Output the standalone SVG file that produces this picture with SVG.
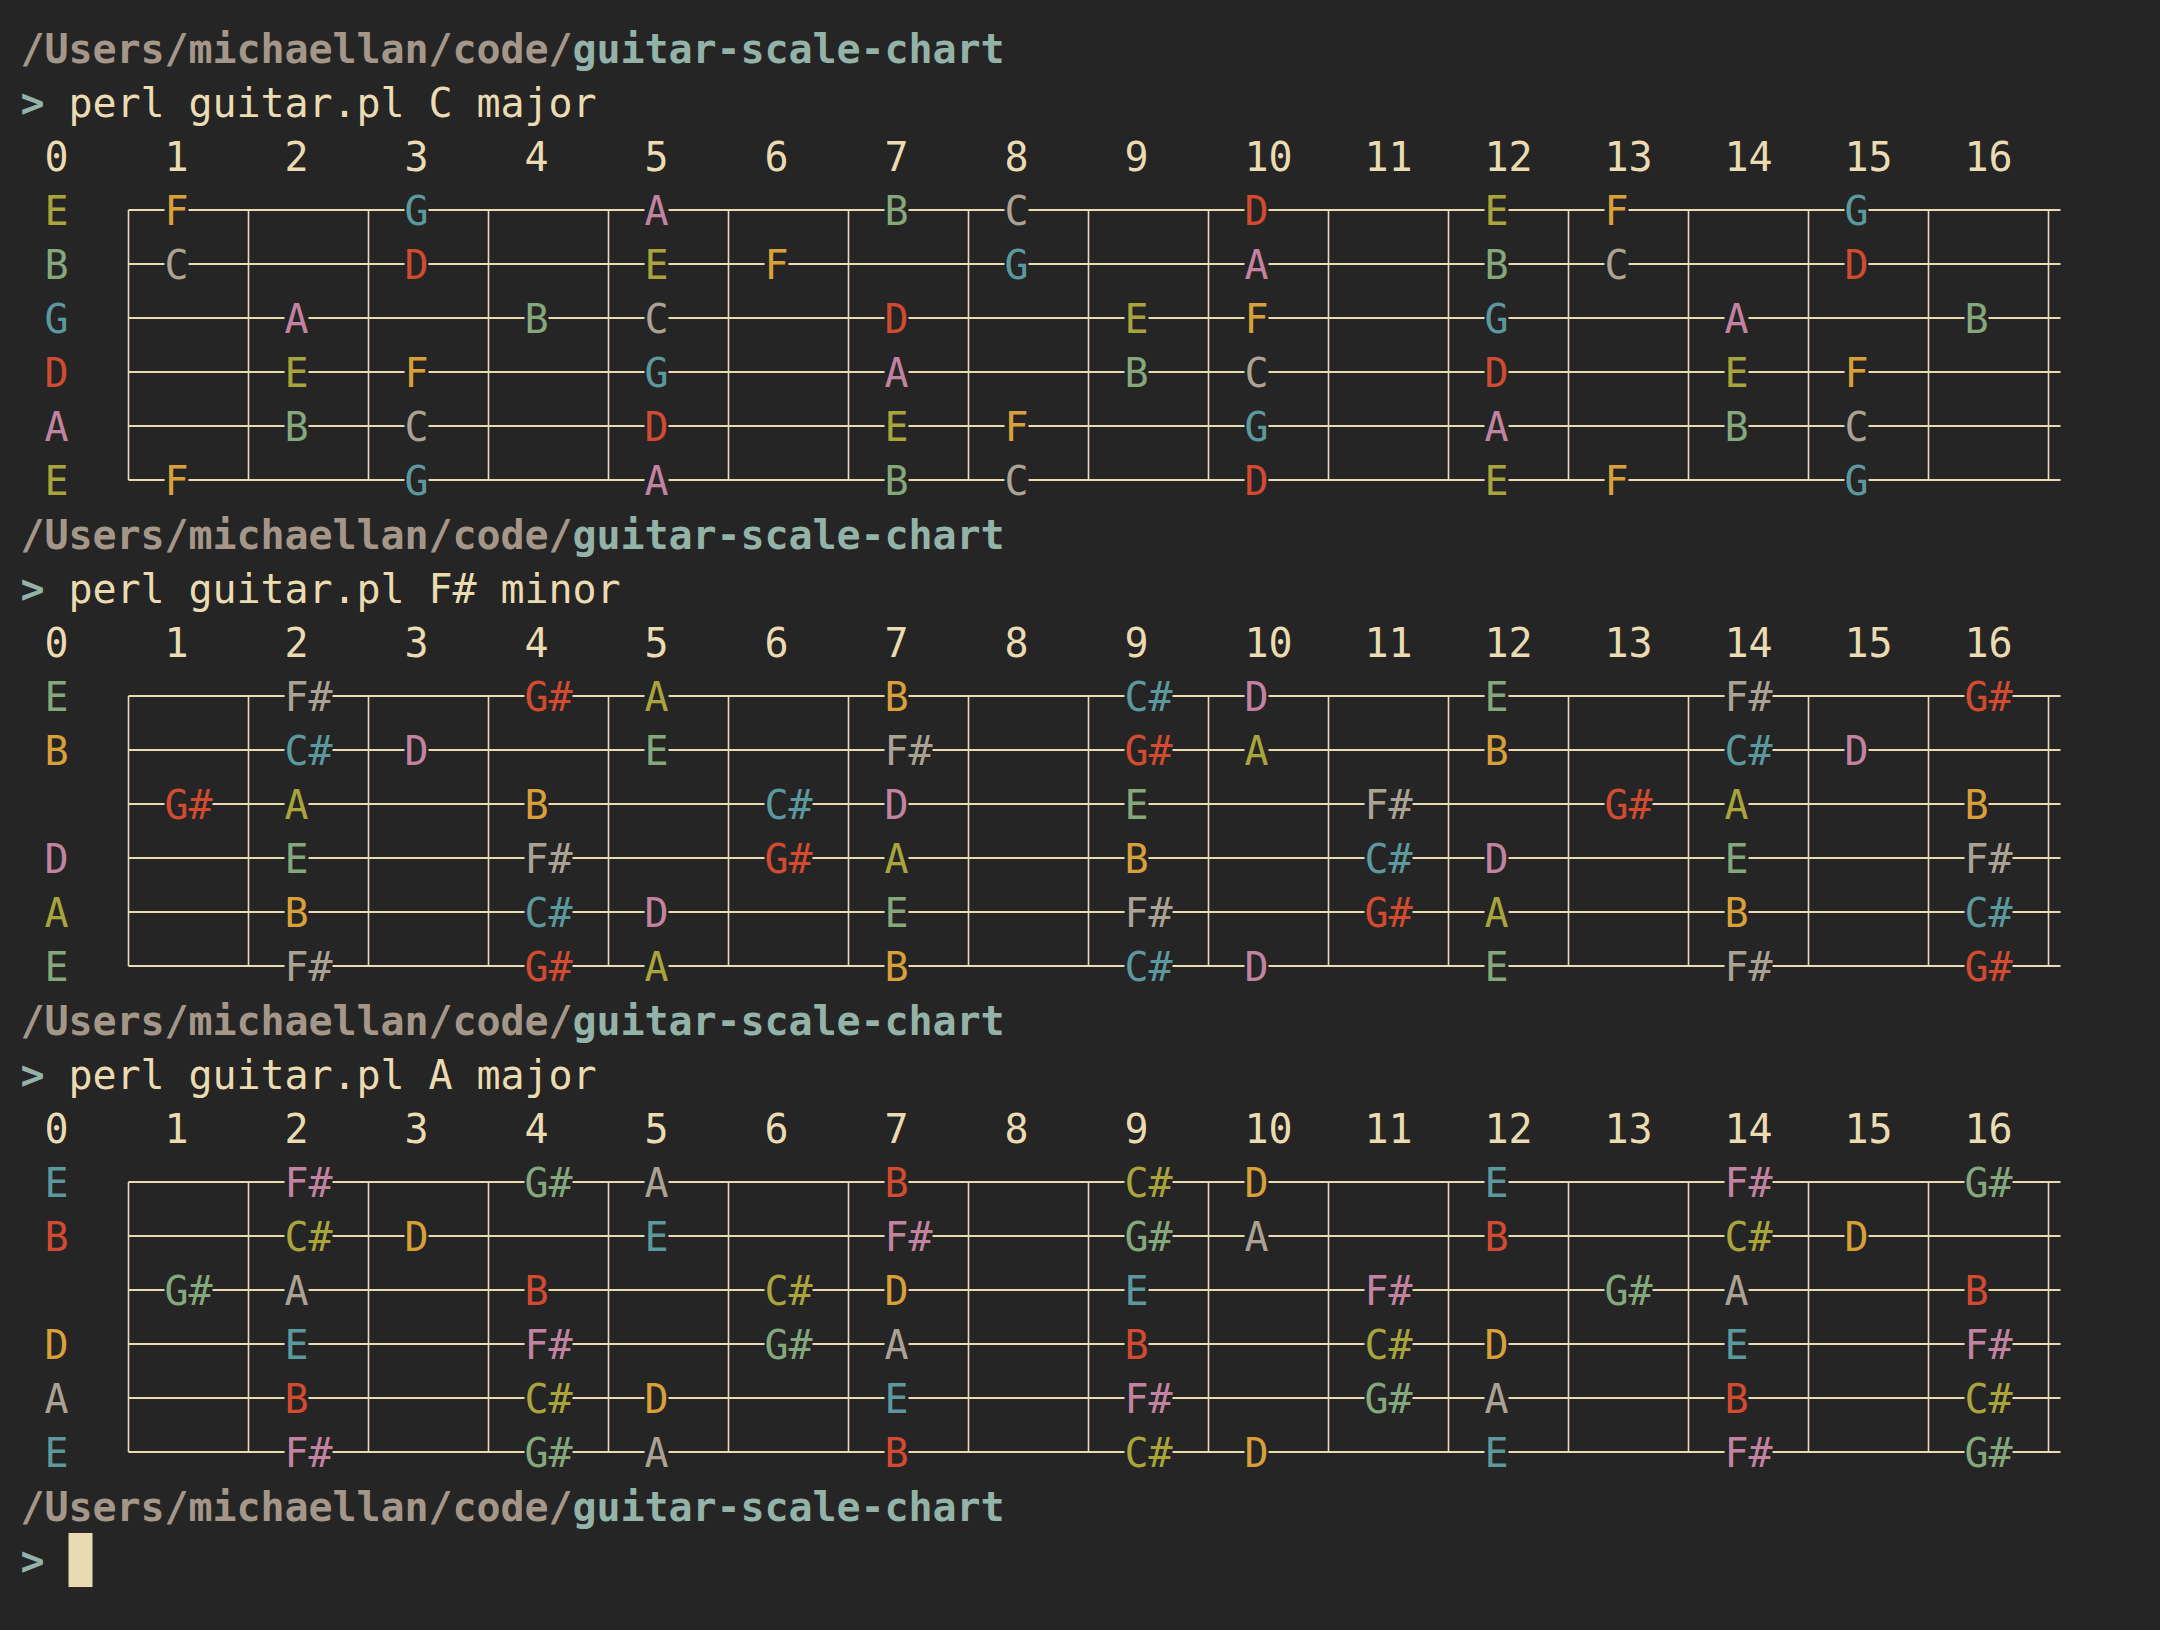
<svg xmlns="http://www.w3.org/2000/svg" xmlns:xlink="http://www.w3.org/1999/xlink" width="2160" height="1630" viewBox="0 0 2160 1630">
<style>
text{font-family:"DejaVu Sans Mono","Liberation Mono",monospace;font-size:40px;white-space:pre}
.path{fill:#a4978a;font-weight:bold}.repo{fill:#93b3a9;font-weight:bold}.pr{fill:#93b3a9;font-weight:bold}.cmd{fill:#ebdbb2}.num{fill:#ebdbb2}
.d1{fill:#aba294}.d2{fill:#d24a30}.d3{fill:#a9a43c}.d4{fill:#d9a03a}.d5{fill:#5b999e}.d6{fill:#c283a0}.d7{fill:#84a87c}
.gap{fill:#252525}
.h{stroke:#ebdbb2;stroke-width:2;fill:none}.v{stroke:#ebdbb2;stroke-width:1.6;fill:none}
</style>
<defs>
<g id="board">
<path class="h" d="M128.5 0H2060.5M128.5 54H2060.5M128.5 108H2060.5M128.5 162H2060.5M128.5 216H2060.5M128.5 270H2060.5"/>
<path class="v" d="M128.5 0V270M248.5 0V270M368.5 0V270M488.5 0V270M608.5 0V270M728.5 0V270M848.5 0V270M968.5 0V270M1088.5 0V270M1208.5 0V270M1328.5 0V270M1448.5 0V270M1568.5 0V270M1688.5 0V270M1808.5 0V270M1928.5 0V270M2048.5 0V270"/>
</g>
<g id="frets">
<text class="num" x="44.5" y="0">0</text><text class="num" x="164.5" y="0">1</text><text class="num" x="284.5" y="0">2</text><text class="num" x="404.5" y="0">3</text><text class="num" x="524.5" y="0">4</text><text class="num" x="644.5" y="0">5</text><text class="num" x="764.5" y="0">6</text><text class="num" x="884.5" y="0">7</text><text class="num" x="1004.5" y="0">8</text><text class="num" x="1124.5" y="0">9</text><text class="num" x="1244.5" y="0" textLength="48">10</text><text class="num" x="1364.5" y="0" textLength="48">11</text><text class="num" x="1484.5" y="0" textLength="48">12</text><text class="num" x="1604.5" y="0" textLength="48">13</text><text class="num" x="1724.5" y="0" textLength="48">14</text><text class="num" x="1844.5" y="0" textLength="48">15</text><text class="num" x="1964.5" y="0" textLength="48">16</text>
</g>
<g id="header">
<text class="path" x="20.5" y="0" textLength="552">/Users/michaellan/code/</text><text class="repo" x="572.5" y="0" textLength="432">guitar-scale-chart</text>
</g>
</defs>
<rect width="2160" height="1630" fill="#252525"/>

<g id="chart-c-major">
<use xlink:href="#header" href="#header" y="63"/>
<text class="pr" x="20.5" y="117">&gt;</text><text class="cmd" x="68.5" y="117" textLength="528">perl guitar.pl C major</text>
<use xlink:href="#frets" href="#frets" y="171"/>
<use xlink:href="#board" href="#board" y="210"/>
<g id="cmaj-s1" transform="translate(0,210)">
<text class="d3" x="44.5" y="15">E</text>
<rect class="gap" x="164.5" y="-5" width="24" height="10"/><text class="d4" x="164.5" y="15">F</text>
<rect class="gap" x="404.5" y="-5" width="24" height="10"/><text class="d5" x="404.5" y="15">G</text>
<rect class="gap" x="644.5" y="-5" width="24" height="10"/><text class="d6" x="644.5" y="15">A</text>
<rect class="gap" x="884.5" y="-5" width="24" height="10"/><text class="d7" x="884.5" y="15">B</text>
<rect class="gap" x="1004.5" y="-5" width="24" height="10"/><text class="d1" x="1004.5" y="15">C</text>
<rect class="gap" x="1244.5" y="-5" width="24" height="10"/><text class="d2" x="1244.5" y="15">D</text>
<rect class="gap" x="1484.5" y="-5" width="24" height="10"/><text class="d3" x="1484.5" y="15">E</text>
<rect class="gap" x="1604.5" y="-5" width="24" height="10"/><text class="d4" x="1604.5" y="15">F</text>
<rect class="gap" x="1844.5" y="-5" width="24" height="10"/><text class="d5" x="1844.5" y="15">G</text>
</g>
<g id="cmaj-s2" transform="translate(0,264)">
<text class="d7" x="44.5" y="15">B</text>
<rect class="gap" x="164.5" y="-5" width="24" height="10"/><text class="d1" x="164.5" y="15">C</text>
<rect class="gap" x="404.5" y="-5" width="24" height="10"/><text class="d2" x="404.5" y="15">D</text>
<rect class="gap" x="644.5" y="-5" width="24" height="10"/><text class="d3" x="644.5" y="15">E</text>
<rect class="gap" x="764.5" y="-5" width="24" height="10"/><text class="d4" x="764.5" y="15">F</text>
<rect class="gap" x="1004.5" y="-5" width="24" height="10"/><text class="d5" x="1004.5" y="15">G</text>
<rect class="gap" x="1244.5" y="-5" width="24" height="10"/><text class="d6" x="1244.5" y="15">A</text>
<rect class="gap" x="1484.5" y="-5" width="24" height="10"/><text class="d7" x="1484.5" y="15">B</text>
<rect class="gap" x="1604.5" y="-5" width="24" height="10"/><text class="d1" x="1604.5" y="15">C</text>
<rect class="gap" x="1844.5" y="-5" width="24" height="10"/><text class="d2" x="1844.5" y="15">D</text>
</g>
<g id="cmaj-s3" transform="translate(0,318)">
<text class="d5" x="44.5" y="15">G</text>
<rect class="gap" x="284.5" y="-5" width="24" height="10"/><text class="d6" x="284.5" y="15">A</text>
<rect class="gap" x="524.5" y="-5" width="24" height="10"/><text class="d7" x="524.5" y="15">B</text>
<rect class="gap" x="644.5" y="-5" width="24" height="10"/><text class="d1" x="644.5" y="15">C</text>
<rect class="gap" x="884.5" y="-5" width="24" height="10"/><text class="d2" x="884.5" y="15">D</text>
<rect class="gap" x="1124.5" y="-5" width="24" height="10"/><text class="d3" x="1124.5" y="15">E</text>
<rect class="gap" x="1244.5" y="-5" width="24" height="10"/><text class="d4" x="1244.5" y="15">F</text>
<rect class="gap" x="1484.5" y="-5" width="24" height="10"/><text class="d5" x="1484.5" y="15">G</text>
<rect class="gap" x="1724.5" y="-5" width="24" height="10"/><text class="d6" x="1724.5" y="15">A</text>
<rect class="gap" x="1964.5" y="-5" width="24" height="10"/><text class="d7" x="1964.5" y="15">B</text>
</g>
<g id="cmaj-s4" transform="translate(0,372)">
<text class="d2" x="44.5" y="15">D</text>
<rect class="gap" x="284.5" y="-5" width="24" height="10"/><text class="d3" x="284.5" y="15">E</text>
<rect class="gap" x="404.5" y="-5" width="24" height="10"/><text class="d4" x="404.5" y="15">F</text>
<rect class="gap" x="644.5" y="-5" width="24" height="10"/><text class="d5" x="644.5" y="15">G</text>
<rect class="gap" x="884.5" y="-5" width="24" height="10"/><text class="d6" x="884.5" y="15">A</text>
<rect class="gap" x="1124.5" y="-5" width="24" height="10"/><text class="d7" x="1124.5" y="15">B</text>
<rect class="gap" x="1244.5" y="-5" width="24" height="10"/><text class="d1" x="1244.5" y="15">C</text>
<rect class="gap" x="1484.5" y="-5" width="24" height="10"/><text class="d2" x="1484.5" y="15">D</text>
<rect class="gap" x="1724.5" y="-5" width="24" height="10"/><text class="d3" x="1724.5" y="15">E</text>
<rect class="gap" x="1844.5" y="-5" width="24" height="10"/><text class="d4" x="1844.5" y="15">F</text>
</g>
<g id="cmaj-s5" transform="translate(0,426)">
<text class="d6" x="44.5" y="15">A</text>
<rect class="gap" x="284.5" y="-5" width="24" height="10"/><text class="d7" x="284.5" y="15">B</text>
<rect class="gap" x="404.5" y="-5" width="24" height="10"/><text class="d1" x="404.5" y="15">C</text>
<rect class="gap" x="644.5" y="-5" width="24" height="10"/><text class="d2" x="644.5" y="15">D</text>
<rect class="gap" x="884.5" y="-5" width="24" height="10"/><text class="d3" x="884.5" y="15">E</text>
<rect class="gap" x="1004.5" y="-5" width="24" height="10"/><text class="d4" x="1004.5" y="15">F</text>
<rect class="gap" x="1244.5" y="-5" width="24" height="10"/><text class="d5" x="1244.5" y="15">G</text>
<rect class="gap" x="1484.5" y="-5" width="24" height="10"/><text class="d6" x="1484.5" y="15">A</text>
<rect class="gap" x="1724.5" y="-5" width="24" height="10"/><text class="d7" x="1724.5" y="15">B</text>
<rect class="gap" x="1844.5" y="-5" width="24" height="10"/><text class="d1" x="1844.5" y="15">C</text>
</g>
<g id="cmaj-s6" transform="translate(0,480)">
<text class="d3" x="44.5" y="15">E</text>
<rect class="gap" x="164.5" y="-5" width="24" height="10"/><text class="d4" x="164.5" y="15">F</text>
<rect class="gap" x="404.5" y="-5" width="24" height="10"/><text class="d5" x="404.5" y="15">G</text>
<rect class="gap" x="644.5" y="-5" width="24" height="10"/><text class="d6" x="644.5" y="15">A</text>
<rect class="gap" x="884.5" y="-5" width="24" height="10"/><text class="d7" x="884.5" y="15">B</text>
<rect class="gap" x="1004.5" y="-5" width="24" height="10"/><text class="d1" x="1004.5" y="15">C</text>
<rect class="gap" x="1244.5" y="-5" width="24" height="10"/><text class="d2" x="1244.5" y="15">D</text>
<rect class="gap" x="1484.5" y="-5" width="24" height="10"/><text class="d3" x="1484.5" y="15">E</text>
<rect class="gap" x="1604.5" y="-5" width="24" height="10"/><text class="d4" x="1604.5" y="15">F</text>
<rect class="gap" x="1844.5" y="-5" width="24" height="10"/><text class="d5" x="1844.5" y="15">G</text>
</g>
</g>

<g id="chart-fs-minor">
<use xlink:href="#header" href="#header" y="549"/>
<text class="pr" x="20.5" y="603">&gt;</text><text class="cmd" x="68.5" y="603" textLength="552">perl guitar.pl F# minor</text>
<use xlink:href="#frets" href="#frets" y="657"/>
<use xlink:href="#board" href="#board" y="696"/>
<g id="fsmin-s1" transform="translate(0,696)">
<text class="d7" x="44.5" y="15">E</text>
<rect class="gap" x="284.5" y="-5" width="48" height="10"/><text class="d1" x="284.5" y="15">F#</text>
<rect class="gap" x="524.5" y="-5" width="48" height="10"/><text class="d2" x="524.5" y="15">G#</text>
<rect class="gap" x="644.5" y="-5" width="24" height="10"/><text class="d3" x="644.5" y="15">A</text>
<rect class="gap" x="884.5" y="-5" width="24" height="10"/><text class="d4" x="884.5" y="15">B</text>
<rect class="gap" x="1124.5" y="-5" width="48" height="10"/><text class="d5" x="1124.5" y="15">C#</text>
<rect class="gap" x="1244.5" y="-5" width="24" height="10"/><text class="d6" x="1244.5" y="15">D</text>
<rect class="gap" x="1484.5" y="-5" width="24" height="10"/><text class="d7" x="1484.5" y="15">E</text>
<rect class="gap" x="1724.5" y="-5" width="48" height="10"/><text class="d1" x="1724.5" y="15">F#</text>
<rect class="gap" x="1964.5" y="-5" width="48" height="10"/><text class="d2" x="1964.5" y="15">G#</text>
</g>
<g id="fsmin-s2" transform="translate(0,750)">
<text class="d4" x="44.5" y="15">B</text>
<rect class="gap" x="284.5" y="-5" width="48" height="10"/><text class="d5" x="284.5" y="15">C#</text>
<rect class="gap" x="404.5" y="-5" width="24" height="10"/><text class="d6" x="404.5" y="15">D</text>
<rect class="gap" x="644.5" y="-5" width="24" height="10"/><text class="d7" x="644.5" y="15">E</text>
<rect class="gap" x="884.5" y="-5" width="48" height="10"/><text class="d1" x="884.5" y="15">F#</text>
<rect class="gap" x="1124.5" y="-5" width="48" height="10"/><text class="d2" x="1124.5" y="15">G#</text>
<rect class="gap" x="1244.5" y="-5" width="24" height="10"/><text class="d3" x="1244.5" y="15">A</text>
<rect class="gap" x="1484.5" y="-5" width="24" height="10"/><text class="d4" x="1484.5" y="15">B</text>
<rect class="gap" x="1724.5" y="-5" width="48" height="10"/><text class="d5" x="1724.5" y="15">C#</text>
<rect class="gap" x="1844.5" y="-5" width="24" height="10"/><text class="d6" x="1844.5" y="15">D</text>
</g>
<g id="fsmin-s3" transform="translate(0,804)">
<rect class="gap" x="164.5" y="-5" width="48" height="10"/><text class="d2" x="164.5" y="15">G#</text>
<rect class="gap" x="284.5" y="-5" width="24" height="10"/><text class="d3" x="284.5" y="15">A</text>
<rect class="gap" x="524.5" y="-5" width="24" height="10"/><text class="d4" x="524.5" y="15">B</text>
<rect class="gap" x="764.5" y="-5" width="48" height="10"/><text class="d5" x="764.5" y="15">C#</text>
<rect class="gap" x="884.5" y="-5" width="24" height="10"/><text class="d6" x="884.5" y="15">D</text>
<rect class="gap" x="1124.5" y="-5" width="24" height="10"/><text class="d7" x="1124.5" y="15">E</text>
<rect class="gap" x="1364.5" y="-5" width="48" height="10"/><text class="d1" x="1364.5" y="15">F#</text>
<rect class="gap" x="1604.5" y="-5" width="48" height="10"/><text class="d2" x="1604.5" y="15">G#</text>
<rect class="gap" x="1724.5" y="-5" width="24" height="10"/><text class="d3" x="1724.5" y="15">A</text>
<rect class="gap" x="1964.5" y="-5" width="24" height="10"/><text class="d4" x="1964.5" y="15">B</text>
</g>
<g id="fsmin-s4" transform="translate(0,858)">
<text class="d6" x="44.5" y="15">D</text>
<rect class="gap" x="284.5" y="-5" width="24" height="10"/><text class="d7" x="284.5" y="15">E</text>
<rect class="gap" x="524.5" y="-5" width="48" height="10"/><text class="d1" x="524.5" y="15">F#</text>
<rect class="gap" x="764.5" y="-5" width="48" height="10"/><text class="d2" x="764.5" y="15">G#</text>
<rect class="gap" x="884.5" y="-5" width="24" height="10"/><text class="d3" x="884.5" y="15">A</text>
<rect class="gap" x="1124.5" y="-5" width="24" height="10"/><text class="d4" x="1124.5" y="15">B</text>
<rect class="gap" x="1364.5" y="-5" width="48" height="10"/><text class="d5" x="1364.5" y="15">C#</text>
<rect class="gap" x="1484.5" y="-5" width="24" height="10"/><text class="d6" x="1484.5" y="15">D</text>
<rect class="gap" x="1724.5" y="-5" width="24" height="10"/><text class="d7" x="1724.5" y="15">E</text>
<rect class="gap" x="1964.5" y="-5" width="48" height="10"/><text class="d1" x="1964.5" y="15">F#</text>
</g>
<g id="fsmin-s5" transform="translate(0,912)">
<text class="d3" x="44.5" y="15">A</text>
<rect class="gap" x="284.5" y="-5" width="24" height="10"/><text class="d4" x="284.5" y="15">B</text>
<rect class="gap" x="524.5" y="-5" width="48" height="10"/><text class="d5" x="524.5" y="15">C#</text>
<rect class="gap" x="644.5" y="-5" width="24" height="10"/><text class="d6" x="644.5" y="15">D</text>
<rect class="gap" x="884.5" y="-5" width="24" height="10"/><text class="d7" x="884.5" y="15">E</text>
<rect class="gap" x="1124.5" y="-5" width="48" height="10"/><text class="d1" x="1124.5" y="15">F#</text>
<rect class="gap" x="1364.5" y="-5" width="48" height="10"/><text class="d2" x="1364.5" y="15">G#</text>
<rect class="gap" x="1484.5" y="-5" width="24" height="10"/><text class="d3" x="1484.5" y="15">A</text>
<rect class="gap" x="1724.5" y="-5" width="24" height="10"/><text class="d4" x="1724.5" y="15">B</text>
<rect class="gap" x="1964.5" y="-5" width="48" height="10"/><text class="d5" x="1964.5" y="15">C#</text>
</g>
<g id="fsmin-s6" transform="translate(0,966)">
<text class="d7" x="44.5" y="15">E</text>
<rect class="gap" x="284.5" y="-5" width="48" height="10"/><text class="d1" x="284.5" y="15">F#</text>
<rect class="gap" x="524.5" y="-5" width="48" height="10"/><text class="d2" x="524.5" y="15">G#</text>
<rect class="gap" x="644.5" y="-5" width="24" height="10"/><text class="d3" x="644.5" y="15">A</text>
<rect class="gap" x="884.5" y="-5" width="24" height="10"/><text class="d4" x="884.5" y="15">B</text>
<rect class="gap" x="1124.5" y="-5" width="48" height="10"/><text class="d5" x="1124.5" y="15">C#</text>
<rect class="gap" x="1244.5" y="-5" width="24" height="10"/><text class="d6" x="1244.5" y="15">D</text>
<rect class="gap" x="1484.5" y="-5" width="24" height="10"/><text class="d7" x="1484.5" y="15">E</text>
<rect class="gap" x="1724.5" y="-5" width="48" height="10"/><text class="d1" x="1724.5" y="15">F#</text>
<rect class="gap" x="1964.5" y="-5" width="48" height="10"/><text class="d2" x="1964.5" y="15">G#</text>
</g>
</g>

<g id="chart-a-major">
<use xlink:href="#header" href="#header" y="1035"/>
<text class="pr" x="20.5" y="1089">&gt;</text><text class="cmd" x="68.5" y="1089" textLength="528">perl guitar.pl A major</text>
<use xlink:href="#frets" href="#frets" y="1143"/>
<use xlink:href="#board" href="#board" y="1182"/>
<g id="amaj-s1" transform="translate(0,1182)">
<text class="d5" x="44.5" y="15">E</text>
<rect class="gap" x="284.5" y="-5" width="48" height="10"/><text class="d6" x="284.5" y="15">F#</text>
<rect class="gap" x="524.5" y="-5" width="48" height="10"/><text class="d7" x="524.5" y="15">G#</text>
<rect class="gap" x="644.5" y="-5" width="24" height="10"/><text class="d1" x="644.5" y="15">A</text>
<rect class="gap" x="884.5" y="-5" width="24" height="10"/><text class="d2" x="884.5" y="15">B</text>
<rect class="gap" x="1124.5" y="-5" width="48" height="10"/><text class="d3" x="1124.5" y="15">C#</text>
<rect class="gap" x="1244.5" y="-5" width="24" height="10"/><text class="d4" x="1244.5" y="15">D</text>
<rect class="gap" x="1484.5" y="-5" width="24" height="10"/><text class="d5" x="1484.5" y="15">E</text>
<rect class="gap" x="1724.5" y="-5" width="48" height="10"/><text class="d6" x="1724.5" y="15">F#</text>
<rect class="gap" x="1964.5" y="-5" width="48" height="10"/><text class="d7" x="1964.5" y="15">G#</text>
</g>
<g id="amaj-s2" transform="translate(0,1236)">
<text class="d2" x="44.5" y="15">B</text>
<rect class="gap" x="284.5" y="-5" width="48" height="10"/><text class="d3" x="284.5" y="15">C#</text>
<rect class="gap" x="404.5" y="-5" width="24" height="10"/><text class="d4" x="404.5" y="15">D</text>
<rect class="gap" x="644.5" y="-5" width="24" height="10"/><text class="d5" x="644.5" y="15">E</text>
<rect class="gap" x="884.5" y="-5" width="48" height="10"/><text class="d6" x="884.5" y="15">F#</text>
<rect class="gap" x="1124.5" y="-5" width="48" height="10"/><text class="d7" x="1124.5" y="15">G#</text>
<rect class="gap" x="1244.5" y="-5" width="24" height="10"/><text class="d1" x="1244.5" y="15">A</text>
<rect class="gap" x="1484.5" y="-5" width="24" height="10"/><text class="d2" x="1484.5" y="15">B</text>
<rect class="gap" x="1724.5" y="-5" width="48" height="10"/><text class="d3" x="1724.5" y="15">C#</text>
<rect class="gap" x="1844.5" y="-5" width="24" height="10"/><text class="d4" x="1844.5" y="15">D</text>
</g>
<g id="amaj-s3" transform="translate(0,1290)">
<rect class="gap" x="164.5" y="-5" width="48" height="10"/><text class="d7" x="164.5" y="15">G#</text>
<rect class="gap" x="284.5" y="-5" width="24" height="10"/><text class="d1" x="284.5" y="15">A</text>
<rect class="gap" x="524.5" y="-5" width="24" height="10"/><text class="d2" x="524.5" y="15">B</text>
<rect class="gap" x="764.5" y="-5" width="48" height="10"/><text class="d3" x="764.5" y="15">C#</text>
<rect class="gap" x="884.5" y="-5" width="24" height="10"/><text class="d4" x="884.5" y="15">D</text>
<rect class="gap" x="1124.5" y="-5" width="24" height="10"/><text class="d5" x="1124.5" y="15">E</text>
<rect class="gap" x="1364.5" y="-5" width="48" height="10"/><text class="d6" x="1364.5" y="15">F#</text>
<rect class="gap" x="1604.5" y="-5" width="48" height="10"/><text class="d7" x="1604.5" y="15">G#</text>
<rect class="gap" x="1724.5" y="-5" width="24" height="10"/><text class="d1" x="1724.5" y="15">A</text>
<rect class="gap" x="1964.5" y="-5" width="24" height="10"/><text class="d2" x="1964.5" y="15">B</text>
</g>
<g id="amaj-s4" transform="translate(0,1344)">
<text class="d4" x="44.5" y="15">D</text>
<rect class="gap" x="284.5" y="-5" width="24" height="10"/><text class="d5" x="284.5" y="15">E</text>
<rect class="gap" x="524.5" y="-5" width="48" height="10"/><text class="d6" x="524.5" y="15">F#</text>
<rect class="gap" x="764.5" y="-5" width="48" height="10"/><text class="d7" x="764.5" y="15">G#</text>
<rect class="gap" x="884.5" y="-5" width="24" height="10"/><text class="d1" x="884.5" y="15">A</text>
<rect class="gap" x="1124.5" y="-5" width="24" height="10"/><text class="d2" x="1124.5" y="15">B</text>
<rect class="gap" x="1364.5" y="-5" width="48" height="10"/><text class="d3" x="1364.5" y="15">C#</text>
<rect class="gap" x="1484.5" y="-5" width="24" height="10"/><text class="d4" x="1484.5" y="15">D</text>
<rect class="gap" x="1724.5" y="-5" width="24" height="10"/><text class="d5" x="1724.5" y="15">E</text>
<rect class="gap" x="1964.5" y="-5" width="48" height="10"/><text class="d6" x="1964.5" y="15">F#</text>
</g>
<g id="amaj-s5" transform="translate(0,1398)">
<text class="d1" x="44.5" y="15">A</text>
<rect class="gap" x="284.5" y="-5" width="24" height="10"/><text class="d2" x="284.5" y="15">B</text>
<rect class="gap" x="524.5" y="-5" width="48" height="10"/><text class="d3" x="524.5" y="15">C#</text>
<rect class="gap" x="644.5" y="-5" width="24" height="10"/><text class="d4" x="644.5" y="15">D</text>
<rect class="gap" x="884.5" y="-5" width="24" height="10"/><text class="d5" x="884.5" y="15">E</text>
<rect class="gap" x="1124.5" y="-5" width="48" height="10"/><text class="d6" x="1124.5" y="15">F#</text>
<rect class="gap" x="1364.5" y="-5" width="48" height="10"/><text class="d7" x="1364.5" y="15">G#</text>
<rect class="gap" x="1484.5" y="-5" width="24" height="10"/><text class="d1" x="1484.5" y="15">A</text>
<rect class="gap" x="1724.5" y="-5" width="24" height="10"/><text class="d2" x="1724.5" y="15">B</text>
<rect class="gap" x="1964.5" y="-5" width="48" height="10"/><text class="d3" x="1964.5" y="15">C#</text>
</g>
<g id="amaj-s6" transform="translate(0,1452)">
<text class="d5" x="44.5" y="15">E</text>
<rect class="gap" x="284.5" y="-5" width="48" height="10"/><text class="d6" x="284.5" y="15">F#</text>
<rect class="gap" x="524.5" y="-5" width="48" height="10"/><text class="d7" x="524.5" y="15">G#</text>
<rect class="gap" x="644.5" y="-5" width="24" height="10"/><text class="d1" x="644.5" y="15">A</text>
<rect class="gap" x="884.5" y="-5" width="24" height="10"/><text class="d2" x="884.5" y="15">B</text>
<rect class="gap" x="1124.5" y="-5" width="48" height="10"/><text class="d3" x="1124.5" y="15">C#</text>
<rect class="gap" x="1244.5" y="-5" width="24" height="10"/><text class="d4" x="1244.5" y="15">D</text>
<rect class="gap" x="1484.5" y="-5" width="24" height="10"/><text class="d5" x="1484.5" y="15">E</text>
<rect class="gap" x="1724.5" y="-5" width="48" height="10"/><text class="d6" x="1724.5" y="15">F#</text>
<rect class="gap" x="1964.5" y="-5" width="48" height="10"/><text class="d7" x="1964.5" y="15">G#</text>
</g>
</g>

<g id="prompt">
<use xlink:href="#header" href="#header" y="1521"/>
<text class="pr" x="20.5" y="1575">&gt;</text>
<rect x="68.5" y="1533" width="24" height="54" fill="#e8dab2"/>
</g>
</svg>
